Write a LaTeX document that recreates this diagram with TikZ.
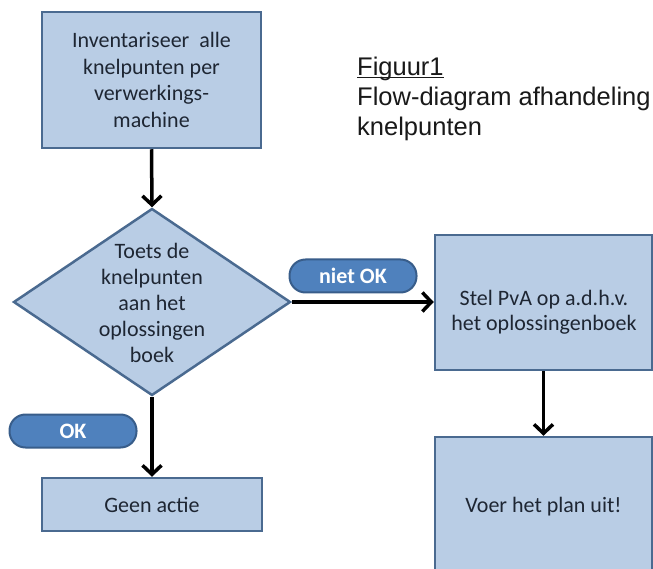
\documentclass[tikz,border=0pt]{standalone}
\usepackage{fontspec}
\setmainfont{Carlito}
\newfontfamily\arialf{Liberation Sans}
\usetikzlibrary{arrows.meta,shapes.geometric}
\definecolor{boxfill}{HTML}{B9CDE5}
\definecolor{boxline}{HTML}{4A6A90}
\definecolor{pillfill}{HTML}{4F81BD}
\definecolor{pillline}{HTML}{385D8A}
\definecolor{boxtext}{HTML}{1E2633}
\begin{document}
\begin{tikzpicture}[x=1pt,y=-1pt,
  stepbox/.style={draw=boxline,fill=boxfill,line width=2.5pt,inner sep=0pt,
     align=center,text=boxtext,font=\fontsize{22}{26.5}\selectfont},
  decision/.style={diamond,draw=boxline,fill=boxfill,line width=2.5pt,inner sep=0pt},
  pill/.style={draw=pillline,fill=pillfill,line width=2pt,rounded corners=16pt,
     minimum width=127pt,minimum height=33pt,inner sep=0pt,text=white,
     font=\bfseries\fontsize{22}{26}\selectfont},
  flow/.style={line width=3.5pt,-{Straight Barb[length=9pt,width=19pt]}},
  titletext/.style={anchor=base west,inner sep=0pt,text=black!90,
     font=\arialf\fontsize{25.5}{30}\selectfont}
]
\useasboundingbox (0,0) rectangle (653,569);
\clip (0,0) rectangle (653,569);
\fill[white] (0,0) rectangle (653,569);

\node[stepbox,minimum width=219pt,minimum height=136pt] (inv) at (151.5,80)
  {Inventariseer\ \ alle\\knelpunten per\\verwerkings-\\machine};

\node[decision,minimum width=277pt,minimum height=187pt] (toets) at (152,302) {};
\node[align=center,text=boxtext,inner sep=0pt,font=\fontsize{22}{25.8}\selectfont] (toetstxt) at (152,303)
  {Toets de\\knelpunten\\aan het\\oplossingen\\boek};

\node[stepbox,minimum width=217pt,minimum height=135pt] (pva) at (543.5,302.5) {};
\node[align=center,text=boxtext,inner sep=0pt,font=\fontsize{22}{25}\selectfont] (pvatxt) at (544,312)
  {Stel PvA op a.d.h.v.\\het oplossingenboek};

\node[stepbox,minimum width=217pt,minimum height=140pt] (voer) at (543.5,507)
  {Voer het plan uit!};

\node[stepbox,minimum width=220pt,minimum height=53pt] (geen) at (152,504.5)
  {Geen actie};

\node[pill] (niet) at (353,276) {niet OK};
\node[pill] (ok) at (73,431) {OK};

\node[titletext] (t1) at (357,76) {\underline{\smash{Figuur1}}};
\node[titletext] (t2) at (357,106) {Flow-diagram afhandeling};
\node[titletext] (t3) at (357,136) {knelpunten};

\draw[flow] (inv.south) -- (toets.north);
\draw[flow] (toets.east) -- (toets.east -| pva.west);
\draw[flow] (toets.south) -- (geen.north);
\draw[flow] (pva.south) -- (voer.north);
\end{tikzpicture}
\end{document}
